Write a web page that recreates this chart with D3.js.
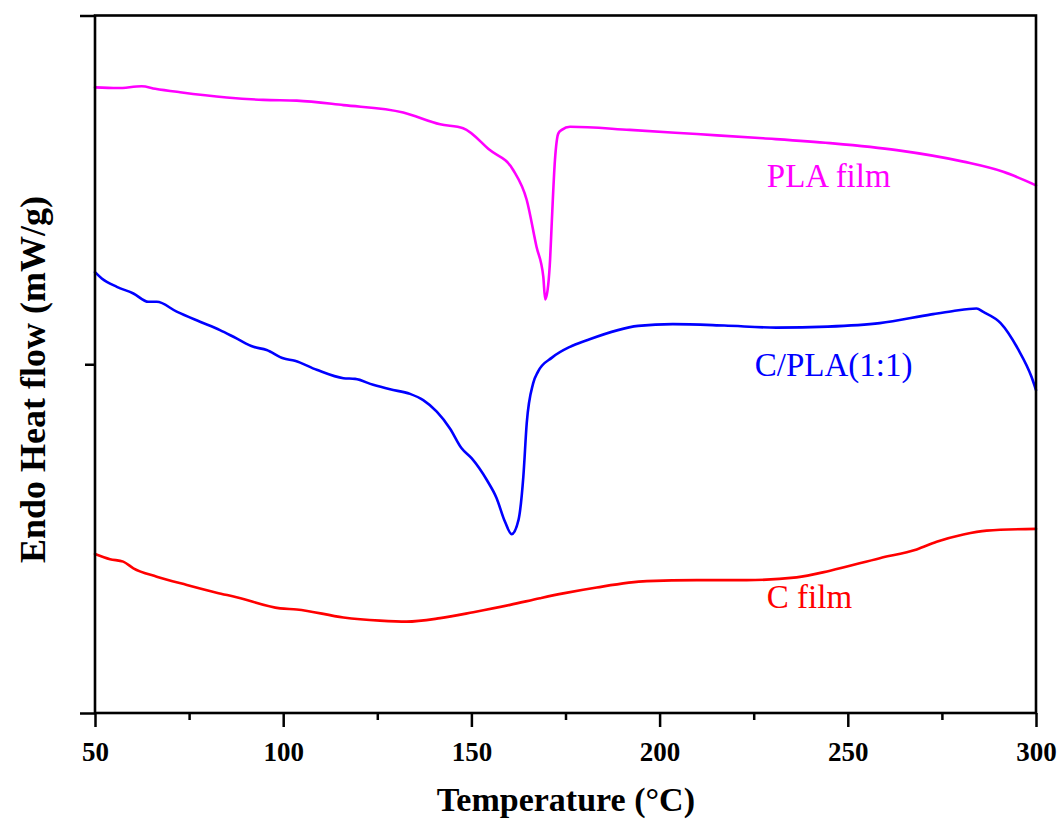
<!DOCTYPE html>
<html>
<head>
<meta charset="utf-8">
<script src="https://cdn.jsdelivr.net/npm/d3@7"></script>
<style>
  body { margin: 0; background: #fff; }
  svg { display: block; }
</style>
</head>
<body>
<div id="wrapper"></div>
<script>
// Temperature (°C), heat flow (arbitrary units)
const plaFilm = [
  [50.0, 1.794], [56.0, 1.792], [62.4, 1.797], [66.0, 1.790], [72.6, 1.780],
  [85.0, 1.765], [94.7, 1.758], [103.6, 1.756], [116.0, 1.743], [131.9, 1.722],
  [141.7, 1.688], [147.8, 1.677], [154.9, 1.614], [161.1, 1.557], [164.7, 1.471],
  [167.3, 1.337], [169.1, 1.251], [169.6, 1.186], [170.4, 1.227], [170.9, 1.299],
  [171.3, 1.394], [172.2, 1.586], [173.1, 1.662], [174.0, 1.672], [176.2, 1.681],
  [192.1, 1.672], [209.9, 1.660], [227.5, 1.648], [245.3, 1.634], [263.0, 1.614],
  [280.7, 1.581], [291.3, 1.552], [300.0, 1.513]
];

const cplaFilm = [
  [50.0, 1.264], [51.8, 1.246], [55.8, 1.222], [60.2, 1.203], [64.2, 1.179],
  [66.4, 1.179], [71.7, 1.151], [77.9, 1.122], [83.2, 1.098], [87.6, 1.074],
  [92.1, 1.050], [95.6, 1.041], [100.0, 1.017], [103.1, 1.010], [108.9, 0.984],
  [116.0, 0.960], [119.1, 0.958], [123.9, 0.941], [128.4, 0.928], [133.7, 0.915],
  [137.2, 0.897], [140.8, 0.864], [144.3, 0.816], [147.4, 0.759], [150.1, 0.730],
  [154.1, 0.668], [156.7, 0.616], [158.9, 0.549], [160.7, 0.513], [162.5, 0.553],
  [163.8, 0.678], [164.7, 0.831], [166.4, 0.945], [167.7, 0.979], [171.4, 1.019],
  [176.2, 1.050], [180.5, 1.068], [194.3, 1.110], [203.5, 1.115], [217.2, 1.111],
  [231.0, 1.105], [244.7, 1.108], [258.5, 1.118], [272.2, 1.143], [277.7, 1.152],
  [284.2, 1.160], [286.0, 1.150], [290.6, 1.118], [295.2, 1.044], [298.8, 0.964],
  [300.0, 0.926]
];

const cFilm = [
  [50.0, 0.456], [54.0, 0.441], [57.5, 0.434], [60.2, 0.415], [66.4, 0.391],
  [74.4, 0.367], [82.3, 0.345], [87.6, 0.332], [99.2, 0.300], [103.6, 0.297],
  [116.0, 0.274], [125.7, 0.265], [132.8, 0.262], [141.7, 0.272], [150.5, 0.289],
  [160.3, 0.310], [168.2, 0.329], [174.4, 0.343], [183.3, 0.360], [196.6, 0.378],
  [209.9, 0.381], [223.1, 0.381], [236.4, 0.389], [245.3, 0.408], [258.5, 0.444],
  [268.3, 0.469], [273.6, 0.491], [280.7, 0.512], [286.9, 0.523], [300.0, 0.528]
];

const seriesNames = ["PLA film", "C/PLA(1:1)", "C film"];
const seriesColors = ["#ff00ff", "#0000ff", "#ff0000"];
// label anchor: [temperature, heat flow] of the text start
const labelPos = [[228.5, 1.508], [225.3, 0.965], [228.5, 0.300]];

const xMajorTicks = [50, 100, 150, 200, 250, 300];
const xMinorTicks = [75, 125, 175, 225, 275];
const yMajorTicks = [0, 2];
const yMinorTicks = [1];

function drawChart() {
  const dimensions = {
    width: 1062,
    height: 824,
    margin: { top: 15.5, right: 26, bottom: 111, left: 95 },
  };
  dimensions.boundedWidth =
    dimensions.width - dimensions.margin.left - dimensions.margin.right;
  dimensions.boundedHeight =
    dimensions.height - dimensions.margin.top - dimensions.margin.bottom;

  const wrapper = d3
    .select("#wrapper")
    .append("svg")
    .attr("width", dimensions.width)
    .attr("height", dimensions.height);

  const bound = wrapper
    .append("g")
    .attr(
      "transform",
      `translate(${dimensions.margin.left}, ${dimensions.margin.top})`
    );

  // Scales
  const xScale = d3.scaleLinear([50, 300], [0, dimensions.boundedWidth]);
  const yScale = d3.scaleLinear([0, 2], [dimensions.boundedHeight, 0]);

  // Curves
  const line = d3
    .line()
    .curve(d3.curveMonotoneX)
    .x((d) => xScale(d[0]))
    .y((d) => yScale(d[1]));

  const allSeries = [plaFilm, cplaFilm, cFilm];

  bound
    .append("g")
    .selectAll("path")
    .data(allSeries)
    .join("path")
    .attr("fill", "none")
    .attr("stroke", (_, i) => seriesColors[i])
    .attr("stroke-width", 2.6)
    .attr("stroke-linejoin", "round")
    .attr("stroke-linecap", "round")
    .attr("d", line);

  bound
    .append("g")
    .selectAll("text")
    .data(seriesNames)
    .join("text")
    .attr("x", (_, i) => xScale(labelPos[i][0]))
    .attr("y", (_, i) => yScale(labelPos[i][1]))
    .attr("fill", (_, i) => seriesColors[i])
    .style("font-family", "'Liberation Serif', 'Times New Roman', serif")
    .style("font-size", "33px")
    .text((d) => d);

  // Axes
  const axisFont = "'Liberation Serif', 'Times New Roman', serif";

  const xAxisMajor = d3
    .axisBottom(xScale)
    .tickValues(xMajorTicks)
    .tickFormat(d3.format("d"))
    .tickSize(14)
    .tickPadding(15);
  const xAxisMinor = d3
    .axisBottom(xScale)
    .tickValues(xMinorTicks)
    .tickFormat("")
    .tickSize(7);

  bound
    .append("g")
    .attr("transform", `translate(0, ${dimensions.boundedHeight})`)
    .call(xAxisMinor)
    .call((g) => g.select(".domain").remove())
    .call((g) => g.selectAll(".tick line").attr("stroke-width", 2.5));

  bound
    .append("g")
    .attr("transform", `translate(0, ${dimensions.boundedHeight})`)
    .call(xAxisMajor)
    .call((g) => g.select(".domain").remove())
    .call((g) => g.selectAll(".tick line").attr("stroke-width", 2.5))
    .call((g) =>
      g
        .selectAll(".tick text")
        .attr("fill", "#000")
        .style("font-family", axisFont)
        .style("font-size", "27px")
        .style("font-weight", "bold")
    );

  const yAxisMajor = d3
    .axisLeft(yScale)
    .tickValues(yMajorTicks)
    .tickFormat("")
    .tickSize(15);
  const yAxisMinor = d3
    .axisLeft(yScale)
    .tickValues(yMinorTicks)
    .tickFormat("")
    .tickSize(10);

  bound
    .append("g")
    .call(yAxisMajor)
    .call((g) => g.select(".domain").remove())
    .call((g) => g.selectAll(".tick line").attr("stroke-width", 2.5));
  bound
    .append("g")
    .call(yAxisMinor)
    .call((g) => g.select(".domain").remove())
    .call((g) => g.selectAll(".tick line").attr("stroke-width", 2.5));

  // Frame
  bound
    .append("rect")
    .attr("x", 0)
    .attr("y", 0)
    .attr("width", dimensions.boundedWidth)
    .attr("height", dimensions.boundedHeight)
    .attr("fill", "none")
    .attr("stroke", "#000")
    .attr("stroke-width", 2.6);

  // Axis titles
  wrapper
    .append("text")
    .attr("x", dimensions.margin.left + xScale(175.1))
    .attr("y", 811)
    .attr("text-anchor", "middle")
    .style("font-family", axisFont)
    .style("font-size", "34px")
    .style("font-weight", "bold")
    .text("Temperature (°C)");

  wrapper
    .append("text")
    .attr("transform", `translate(45, ${dimensions.margin.top + 364}) rotate(-90)`)
    .attr("text-anchor", "middle")
    .style("font-family", axisFont)
    .style("font-size", "36px")
    .style("font-weight", "bold")
    .text("Endo Heat flow (mW/g)");
}

drawChart();
</script>
</body>
</html>
